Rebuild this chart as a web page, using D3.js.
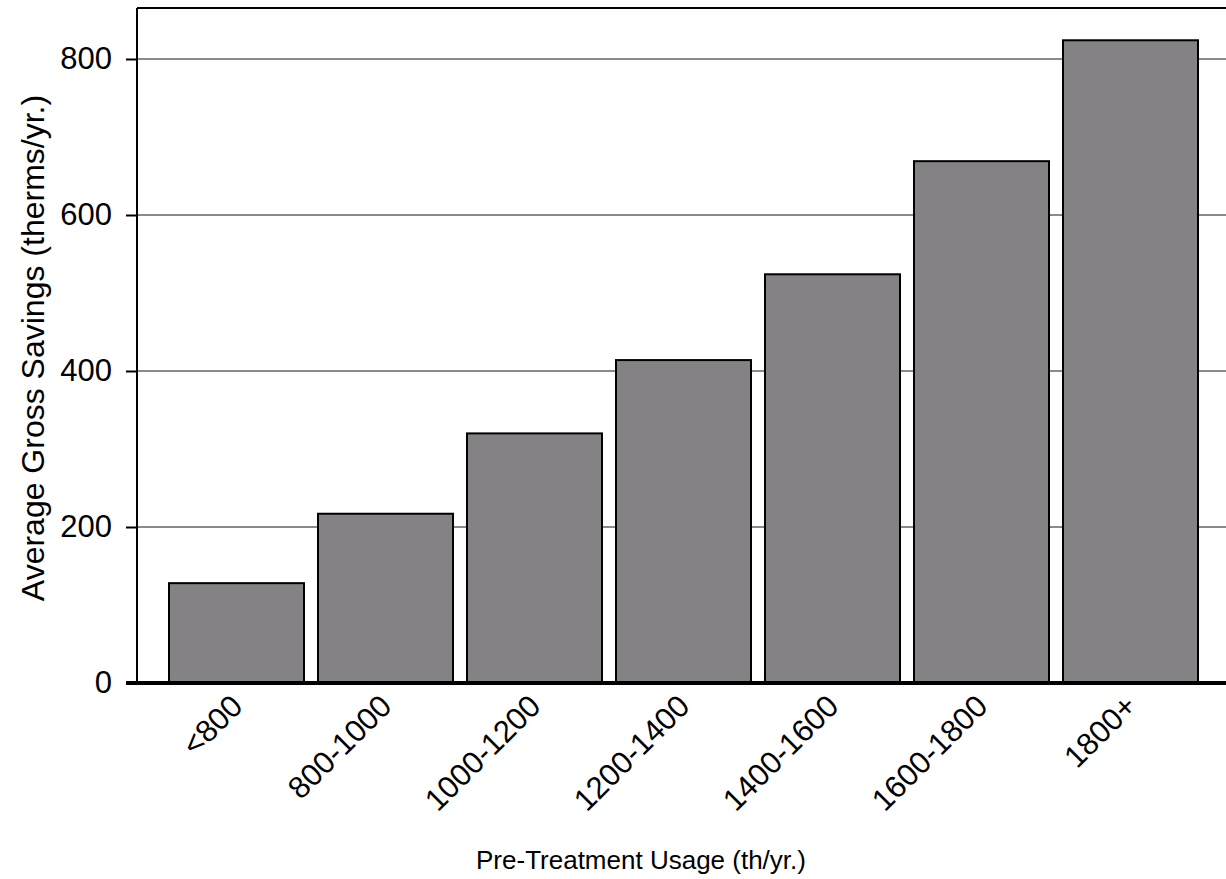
<!DOCTYPE html>
<html>
<head>
<meta charset="utf-8">
<script src="https://cdn.jsdelivr.net/npm/d3@7"></script>
<style>
html,body{margin:0;padding:0;background:#fff;}
svg{display:block;}
text{font-family:"Liberation Sans",Arial,sans-serif;fill:#000;}
</style>
</head>
<body>
<svg id="chart" width="1226" height="879"></svg>
<script>
const categories = ["<800","800-1000","1000-1200","1200-1400","1400-1600","1600-1800","1800+"];
const savings = [128, 217, 320, 414, 524, 669, 824];
const yTicks = [0, 200, 400, 600, 800];
const xTitle = "Pre-Treatment Usage (th/yr.)";
const yTitle = "Average Gross Savings (therms/yr.)";

const svg = d3.select("#chart");
const plotLeft = 137, plotTop = 8, plotRight = 1240, plotBottom = 683;

const x = d3.scaleBand().domain(categories).range([162, 1205]).paddingInner(0.094).paddingOuter(0.047);
const y = d3.scaleLinear().domain([0, 800]).range([plotBottom, 59]);

// gridlines
svg.append("g").selectAll("line").data(yTicks.filter(d => d > 0)).join("line")
  .attr("x1", plotLeft).attr("x2", plotRight)
  .attr("y1", d => y(d)).attr("y2", d => y(d))
  .attr("stroke", "#8a8a8a").attr("stroke-width", 2);

// bars
svg.append("g").selectAll("rect").data(categories).join("rect")
  .attr("x", d => x(d))
  .attr("y", (d, i) => y(savings[i]))
  .attr("width", x.bandwidth())
  .attr("height", (d, i) => y(0) - y(savings[i]))
  .attr("fill", "#858285").attr("stroke", "#000").attr("stroke-width", 2);

// frame: top
svg.append("line").attr("x1", plotLeft).attr("x2", plotRight).attr("y1", plotTop).attr("y2", plotTop)
  .attr("stroke", "#000").attr("stroke-width", 2);

// y axis
const yAxis = svg.append("g").attr("transform", `translate(${plotLeft},0)`)
  .call(d3.axisLeft(y).tickValues(yTicks).tickSize(11).tickPadding(14).tickFormat(d3.format("d")));
yAxis.select(".domain").remove();
yAxis.append("line").attr("x1", 0).attr("x2", 0).attr("y1", plotTop).attr("y2", plotBottom)
  .attr("stroke", "#000").attr("stroke-width", 2);
yAxis.selectAll(".tick line").attr("stroke", "#000").attr("stroke-width", 2);
yAxis.selectAll(".tick text").attr("font-size", 31).attr("font-family", "Liberation Sans, Arial, sans-serif").attr("dy", "0.3em");

// x axis
const xAxis = svg.append("g").attr("transform", `translate(0,${plotBottom})`)
  .call(d3.axisBottom(x).tickSize(0).tickPadding(0));
xAxis.select(".domain").remove();
xAxis.append("line").attr("x1", 126).attr("x2", plotRight).attr("y1", 0).attr("y2", 0)
  .attr("stroke", "#000").attr("stroke-width", 4);
xAxis.selectAll(".tick text")
  .attr("font-size", 31).attr("font-family", "Liberation Sans, Arial, sans-serif")
  .attr("text-anchor", "end").attr("dy", null).attr("y", 0)
  .attr("transform", "translate(8,25) rotate(-45)");

// titles
svg.append("text").attr("x", 641).attr("y", 869).attr("text-anchor", "middle")
  .attr("font-size", 26).text(xTitle);
svg.append("text").attr("transform", "translate(44,348) rotate(-90)").attr("text-anchor", "middle")
  .attr("font-size", 32).text(yTitle);
</script>
</body>
</html>
